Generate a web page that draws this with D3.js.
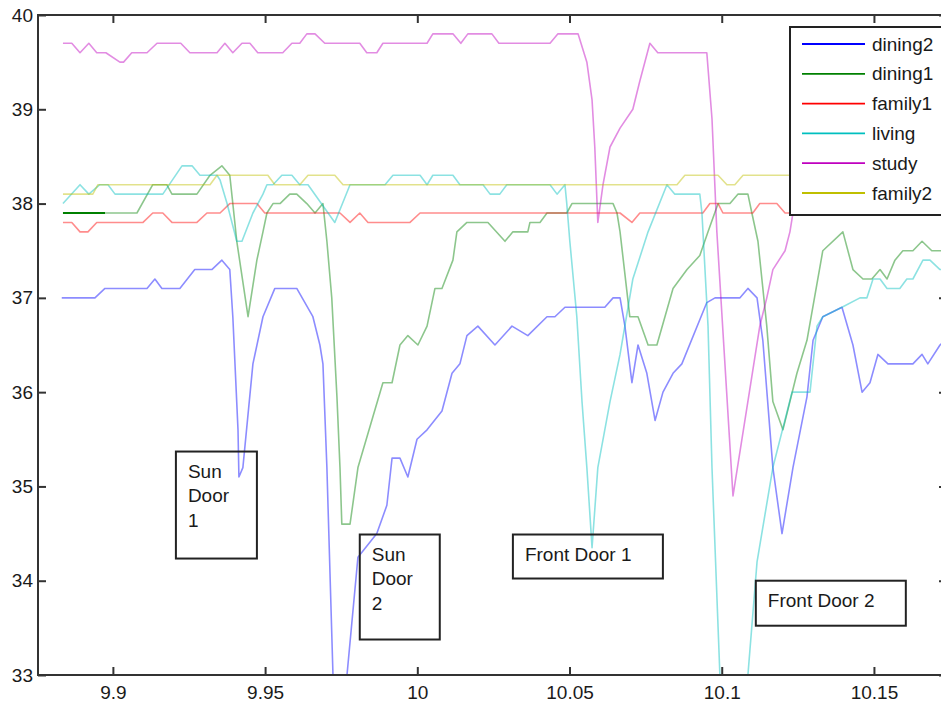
<!DOCTYPE html>
<html>
<head>
<meta charset="utf-8">
<script src="https://cdn.jsdelivr.net/npm/d3@7"></script>
<style>
  body { margin: 0; background: #fff; }
  svg { font-family: "Liberation Sans", Arial, sans-serif; }
</style>
</head>
<body>
<svg id="chart" width="941" height="704"></svg>
<script>
// series: [time, temperature]
var dining2 = [[9.8832,37.0],[9.8941,37.0],[9.8974,37.1],[9.9112,37.1],[9.9138,37.2],[9.9161,37.1],[9.9220,37.1],[9.9269,37.3],[9.9325,37.3],[9.9358,37.4],[9.9384,37.3],[9.9394,36.8],[9.9411,35.6],[9.9414,35.1],[9.9427,35.2],[9.9460,36.3],[9.9493,36.8],[9.9532,37.1],[9.9604,37.1],[9.9657,36.8],[9.9680,36.5],[9.9690,36.3],[9.9703,35.2],[9.9723,33.0],[9.9740,32.6],[9.9769,33.0],[9.9805,34.25],[9.9867,34.5],[9.9900,34.8],[9.9917,35.3],[9.9943,35.3],[9.9969,35.1],[9.9999,35.5],[10.0032,35.6],[10.0081,35.8],[10.0114,36.2],[10.0140,36.3],[10.0163,36.6],[10.0199,36.7],[10.0255,36.5],[10.0311,36.7],[10.0363,36.6],[10.0426,36.8],[10.0452,36.8],[10.0485,36.9],[10.0616,36.9],[10.0643,37.0],[10.0666,37.0],[10.0682,36.7],[10.0705,36.1],[10.0725,36.5],[10.0754,36.2],[10.0781,35.7],[10.0807,36.0],[10.0840,36.2],[10.0869,36.3],[10.0951,36.95],[10.0978,37.0],[10.1060,37.0],[10.1086,37.1],[10.1116,37.0],[10.1135,36.55],[10.1168,35.2],[10.1198,34.5],[10.1234,35.2],[10.1280,35.95],[10.1300,36.55],[10.1332,36.8],[10.1395,36.9],[10.1431,36.5],[10.1461,36.0],[10.1487,36.1],[10.1513,36.4],[10.1546,36.3],[10.1628,36.3],[10.1658,36.4],[10.1677,36.3],[10.1717,36.5],[10.1733,36.55]];

var dining1 = [[9.8836,37.9],[9.9079,37.9],[9.9131,38.2],[9.9177,38.2],[9.9194,38.1],[9.9276,38.1],[9.9319,38.3],[9.9358,38.4],[9.9384,38.3],[9.9394,38.0],[9.9407,37.6],[9.9444,36.8],[9.9473,37.4],[9.9493,37.7],[9.9506,37.9],[9.9526,38.0],[9.9549,38.0],[9.9581,38.1],[9.9604,38.1],[9.9637,38.0],[9.9664,37.9],[9.9690,38.0],[9.9703,37.6],[9.9719,37.0],[9.9736,35.95],[9.9746,35.2],[9.9752,34.6],[9.9779,34.6],[9.9805,35.2],[9.9887,36.1],[9.9917,36.1],[9.9943,36.5],[9.9969,36.6],[10.0002,36.5],[10.0032,36.7],[10.0058,37.1],[10.0081,37.1],[10.0117,37.4],[10.0130,37.7],[10.0163,37.8],[10.0232,37.8],[10.0288,37.6],[10.0314,37.7],[10.0363,37.7],[10.0370,37.8],[10.0403,37.8],[10.0426,37.9],[10.0491,37.9],[10.0508,38.0],[10.0643,38.0],[10.0656,37.9],[10.0666,37.7],[10.0698,36.8],[10.0725,36.8],[10.0758,36.5],[10.0787,36.5],[10.0840,37.1],[10.0886,37.3],[10.0928,37.45],[10.0955,37.7],[10.0988,38.0],[10.1027,38.0],[10.1053,38.1],[10.1086,38.1],[10.1099,37.9],[10.1119,37.6],[10.1148,36.7],[10.1168,35.9],[10.1201,35.6],[10.1247,36.2],[10.1280,36.55],[10.1332,37.5],[10.1398,37.7],[10.1431,37.3],[10.1464,37.2],[10.1493,37.2],[10.1520,37.3],[10.1543,37.2],[10.1569,37.4],[10.1595,37.5],[10.1628,37.5],[10.1658,37.6],[10.1690,37.5],[10.1733,37.5]];

var family1 = [[9.8836,37.8],[9.8865,37.8],[9.8892,37.7],[9.8918,37.7],[9.8947,37.8],[9.9099,37.8],[9.9131,37.9],[9.9164,37.9],[9.9194,37.8],[9.9276,37.8],[9.9309,37.9],[9.9352,37.9],[9.9384,38.0],[9.9473,38.0],[9.9499,37.9],[9.9746,37.9],[9.9779,37.8],[9.9811,37.9],[9.9838,37.8],[9.9976,37.8],[10.0009,37.9],[10.0666,37.9],[10.0705,37.8],[10.0731,37.9],[10.0938,37.9],[10.0961,38.0],[10.0988,38.0],[10.1004,37.9],[10.1102,37.9],[10.1125,38.0],[10.1181,38.0],[10.1208,37.9],[10.1733,37.9]];

var living = [[9.8836,38.0],[9.8892,38.2],[9.8921,38.1],[9.8957,38.2],[9.8984,38.2],[9.9007,38.1],[9.9164,38.1],[9.9227,38.4],[9.9260,38.4],[9.9286,38.3],[9.9342,38.3],[9.9352,38.25],[9.9375,38.0],[9.9407,37.6],[9.9424,37.6],[9.9460,37.9],[9.9493,38.1],[9.9506,38.2],[9.9526,38.2],[9.9555,38.3],[9.9588,38.3],[9.9614,38.2],[9.9641,38.2],[9.9729,37.8],[9.9779,38.2],[9.9894,38.2],[9.9920,38.3],[10.0009,38.3],[10.0032,38.2],[10.0051,38.3],[10.0117,38.3],[10.0140,38.2],[10.0216,38.2],[10.0239,38.1],[10.0271,38.1],[10.0294,38.2],[10.0436,38.2],[10.0459,38.1],[10.0485,38.2],[10.0491,38.0],[10.0501,37.6],[10.0524,36.8],[10.0541,35.9],[10.0557,35.2],[10.0574,34.35],[10.0593,35.2],[10.0633,35.9],[10.0666,36.4],[10.0708,37.2],[10.0758,37.7],[10.0820,38.2],[10.0846,38.1],[10.0928,38.1],[10.0935,37.9],[10.0955,36.7],[10.0968,35.2],[10.0994,33.0],[10.1040,32.6],[10.1086,33.0],[10.1116,34.2],[10.1168,35.2],[10.1231,36.0],[10.1290,36.0],[10.1313,36.7],[10.1332,36.8],[10.1395,36.9],[10.1454,37.0],[10.1477,37.0],[10.1497,37.2],[10.1520,37.2],[10.1543,37.1],[10.1585,37.1],[10.1608,37.2],[10.1628,37.2],[10.1661,37.4],[10.1684,37.4],[10.1717,37.3],[10.1733,37.3]];

var study = [[9.8836,39.7],[9.8865,39.7],[9.8892,39.6],[9.8921,39.7],[9.8947,39.6],[9.8977,39.6],[9.9023,39.5],[9.9035,39.5],[9.9062,39.6],[9.9112,39.6],[9.9145,39.7],[9.9223,39.7],[9.9253,39.6],[9.9342,39.6],[9.9368,39.7],[9.9394,39.6],[9.9424,39.7],[9.9450,39.7],[9.9476,39.6],[9.9558,39.6],[9.9588,39.7],[9.9614,39.7],[9.9637,39.8],[9.9664,39.8],[9.9696,39.7],[9.9811,39.7],[9.9834,39.6],[9.9867,39.6],[9.9887,39.7],[10.0032,39.7],[10.0051,39.8],[10.0117,39.8],[10.0143,39.7],[10.0166,39.8],[10.0245,39.8],[10.0268,39.7],[10.0436,39.7],[10.0462,39.8],[10.0528,39.8],[10.0557,39.5],[10.0574,39.1],[10.0583,38.6],[10.0593,37.8],[10.0610,38.2],[10.0633,38.6],[10.0666,38.8],[10.0708,39.0],[10.0731,39.3],[10.0764,39.7],[10.0790,39.6],[10.0951,39.6],[10.0968,38.9],[10.0984,37.7],[10.1037,34.9],[10.1125,36.7],[10.1148,37.0],[10.1168,37.3],[10.1208,37.5],[10.1224,37.7],[10.1234,37.9],[10.1290,39.6],[10.1733,39.6]];

var family2 = [[9.8836,38.1],[9.8934,38.1],[9.8951,38.2],[9.9319,38.2],[9.9342,38.3],[9.9509,38.3],[9.9532,38.2],[9.9614,38.2],[9.9641,38.3],[9.9729,38.3],[9.9756,38.2],[10.0853,38.2],[10.0879,38.3],[10.0988,38.3],[10.1017,38.2],[10.1043,38.2],[10.1070,38.3],[10.1733,38.3]];

var seriesNames = ["dining2", "dining1", "family1", "living", "study", "family2"];
var seriesValues = [dining2, dining1, family1, living, study, family2];
var seriesColors = ["#0000ff", "#008000", "#ff0000", "#00bfbf", "#bf00bf", "#bfbf00"];

var xTicks = [9.9, 9.95, 10, 10.05, 10.1, 10.15];
var xTickLabels = ["9.9", "9.95", "10", "10.05", "10.1", "10.15"];
var yTicks = [33, 34, 35, 36, 37, 38, 39, 40];
var yTickLabels = ["33", "34", "35", "36", "37", "38", "39", "40"];

// the start of dining1 is drawn darker in the original
var dining1DarkEnd = 9.8974;

// text boxes, anchored at their top-left corner in data units
var annotations = [
  { lines: ["Sun", "Door", "1"], x: 9.9207, y: 35.37 },
  { lines: ["Sun", "Door", "2"], x: 9.9811, y: 34.49 },
  { lines: ["Front Door 1"], x: 10.0314, y: 34.49 },
  { lines: ["Front Door 2"], x: 10.1112, y: 34.00 }
];
var boxSizes = [[81, 107], [80, 105], [150, 44], [150, 45]];

var svg = d3.select("#chart");
var plotLeft = 38, plotRight = 947, plotTop = 15, plotBottom = 675;

var x = d3.scaleLinear().domain([9.8754, 10.174]).range([plotLeft, plotRight]);
var y = d3.scaleLinear().domain([33, 40]).range([plotBottom, plotTop]);

var defs = svg.append("defs");
defs.append("clipPath").attr("id", "plotClip")
  .append("rect")
  .attr("x", plotLeft).attr("y", plotTop)
  .attr("width", plotRight - plotLeft).attr("height", plotBottom - plotTop);
defs.append("clipPath").attr("id", "darkClip")
  .append("rect")
  .attr("x", plotLeft).attr("y", plotTop)
  .attr("width", x(dining1DarkEnd) - plotLeft).attr("height", plotBottom - plotTop);

var line = d3.line().x(d => x(d[0])).y(d => y(d[1]));

var lines = svg.append("g").attr("clip-path", "url(#plotClip)");
seriesValues.forEach(function(values, i) {
  lines.append("path")
    .attr("d", line(values))
    .attr("fill", "none")
    .attr("stroke", seriesColors[i])
    .attr("stroke-opacity", 0.45)
    .attr("stroke-width", 1.6)
    .attr("stroke-linejoin", "round");
});
svg.append("path")
  .attr("clip-path", "url(#darkClip)")
  .attr("d", line(dining1))
  .attr("fill", "none")
  .attr("stroke", seriesColors[1])
  .attr("stroke-width", 1.8);

/* axes */
function styleAxis(g) {
  g.selectAll(".domain").remove();
  g.selectAll(".tick line").attr("stroke", "#333").attr("stroke-width", 2);
  g.selectAll("text").attr("fill", "#1a1a1a").style("font-size", "19px");
}

svg.append("g")
  .attr("transform", `translate(0, ${plotBottom})`)
  .call(d3.axisBottom(x).tickValues(xTicks).tickFormat((d, i) => xTickLabels[i])
    .tickSizeInner(-8).tickSizeOuter(0).tickPadding(11))
  .call(styleAxis);
svg.append("g")
  .attr("transform", `translate(0, ${plotTop})`)
  .call(d3.axisTop(x).tickValues(xTicks).tickFormat("")
    .tickSizeInner(-8).tickSizeOuter(0))
  .call(styleAxis);
svg.append("g")
  .attr("transform", `translate(${plotLeft}, 0)`)
  .call(d3.axisLeft(y).tickValues(yTicks).tickFormat((d, i) => yTickLabels[i])
    .tickSizeInner(-8).tickSizeOuter(0).tickPadding(5))
  .call(styleAxis);
svg.append("g")
  .attr("transform", `translate(${plotRight}, 0)`)
  .call(d3.axisRight(y).tickValues(yTicks).tickFormat("")
    .tickSizeInner(-8).tickSizeOuter(0))
  .call(styleAxis);

svg.append("rect")
  .attr("x", plotLeft).attr("y", plotTop)
  .attr("width", plotRight - plotLeft).attr("height", plotBottom - plotTop)
  .attr("fill", "none").attr("stroke", "#333").attr("stroke-width", 2);

/* annotations */
annotations.forEach(function(a, i) {
  var ax = x(a.x), ay = y(a.y);
  svg.append("rect")
    .attr("x", ax).attr("y", ay)
    .attr("width", boxSizes[i][0]).attr("height", boxSizes[i][1])
    .attr("fill", "none").attr("stroke", "#222").attr("stroke-width", 2);
  var t = svg.append("text")
    .attr("fill", "#1a1a1a")
    .style("font-size", "19px")
    .attr("dominant-baseline", "central");
  a.lines.forEach(function(s, j) {
    t.append("tspan").attr("x", ax + 12).attr("y", ay + 19 + j * 24.5).text(s);
  });
});

/* legend */
var legend = svg.append("g").attr("transform", "translate(790, 27)");
legend.append("rect")
  .attr("width", 170).attr("height", 188)
  .attr("fill", "#fff").attr("stroke", "#222").attr("stroke-width", 2);
seriesNames.forEach(function(name, i) {
  var ly = 17 + i * 29.8;
  legend.append("line")
    .attr("x1", 12).attr("x2", 75).attr("y1", ly).attr("y2", ly)
    .attr("stroke", seriesColors[i]).attr("stroke-width", 1.8);
  legend.append("text")
    .attr("x", 82).attr("y", ly)
    .attr("dominant-baseline", "central")
    .attr("fill", "#1a1a1a")
    .style("font-size", "19px")
    .text(name);
});
</script>
</body>
</html>
